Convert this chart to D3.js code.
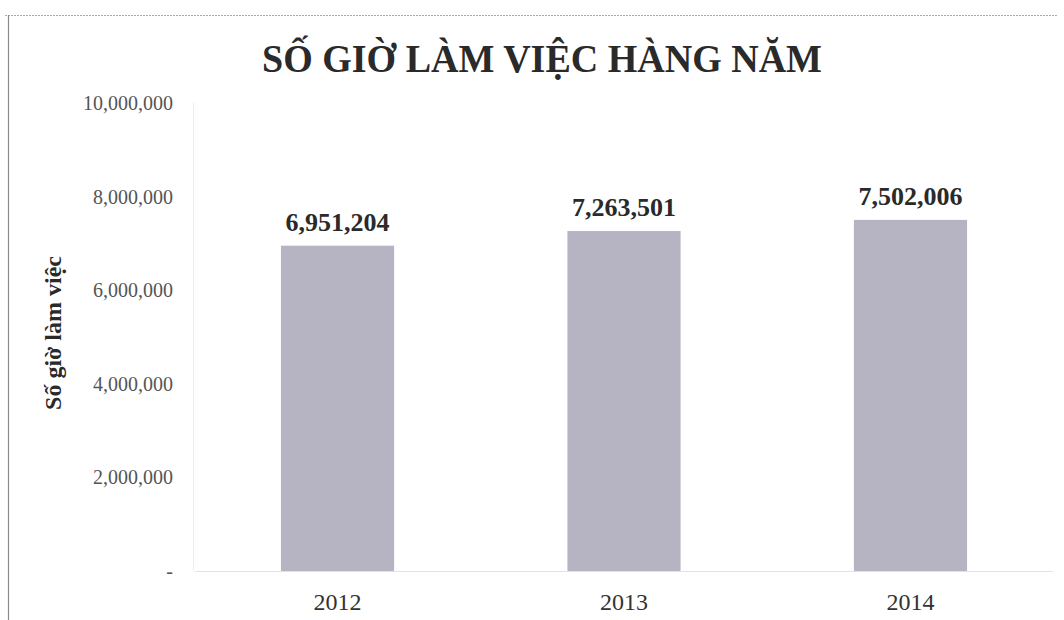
<!DOCTYPE html>
<html>
<head>
<meta charset="utf-8">
<script src="https://cdn.jsdelivr.net/npm/d3@7/dist/d3.min.js"></script>
<style>
  html, body { margin: 0; padding: 0; background: #fff; }
  svg { display: block; }
  text { font-family: "Liberation Serif", "Times New Roman", serif; }
</style>
</head>
<body>
<svg id="chart" width="1064" height="620"></svg>
<script>
// Annual working hours per year
const years = ["2012", "2013", "2014"];
const hours = [6951204, 7263501, 7502006];
const yTicks = [0, 2000000, 4000000, 6000000, 8000000, 10000000];

const chartTitle = "SỐ GIỜ LÀM VIỆC HÀNG NĂM";
const yTitle = "Số giờ làm việc";

const svg = d3.select("#chart");
const margin = { top: 103, right: 11, bottom: 49, left: 195 };
const W = 1064, H = 620;
const plotW = W - margin.left - margin.right;
const plotH = H - margin.top - margin.bottom;

const fmt = d3.format(",");

// outer frame: dotted top edge and solid left edge
svg.append("line")
  .attr("x1", 5).attr("x2", 1058).attr("y1", 15.5).attr("y2", 15.5)
  .attr("stroke", "#aaaaaa").attr("stroke-width", 1).attr("stroke-dasharray", "2,1");
svg.append("line")
  .attr("x1", 8.5).attr("x2", 8.5).attr("y1", 15).attr("y2", 620)
  .attr("stroke", "#8a8a8a").attr("stroke-width", 1.2);

const g = svg.append("g").attr("transform", `translate(${margin.left},${margin.top})`);

const x = d3.scaleBand().domain(years).range([0, plotW]).paddingInner(0.605).paddingOuter(0.3);
const y = d3.scaleLinear().domain([0, 10000000]).range([plotH, 0]);

// faint left plot edge
g.append("line")
  .attr("x1", -1.5).attr("x2", -1.5).attr("y1", 0).attr("y2", plotH)
  .attr("stroke", "#ececec").attr("stroke-width", 1);

// y axis
const yAxis = d3.axisLeft(y)
  .tickValues(yTicks)
  .tickSize(0)
  .tickPadding(22)
  .tickFormat(d => d === 0 ? "-" : fmt(d));
const ya = g.append("g").call(yAxis);
ya.select(".domain").remove();
ya.selectAll("text")
  .attr("fill", "#555")
  .style("font-size", "20px")
  .attr("dy", "0.32em");

// bars
g.selectAll("rect.bar")
  .data(years)
  .enter().append("rect")
  .attr("class", "bar")
  .attr("x", d => x(d))
  .attr("width", x.bandwidth())
  .attr("y", (d, i) => y(hours[i]))
  .attr("height", (d, i) => plotH - y(hours[i]))
  .attr("fill", "#b6b4c3");

// baseline
g.append("line")
  .attr("x1", 0).attr("x2", plotW).attr("y1", plotH + 0.5).attr("y2", plotH + 0.5)
  .attr("stroke", "#e2e2e2").attr("stroke-width", 1);

// x axis
const xAxis = d3.axisBottom(x).tickSize(0).tickPadding(22);
const xa = g.append("g").attr("transform", `translate(0,${plotH})`).call(xAxis);
xa.select(".domain").remove();
xa.selectAll("text")
  .attr("fill", "#333")
  .style("font-size", "24px");

// value labels
g.selectAll("text.val")
  .data(years)
  .enter().append("text")
  .attr("class", "val")
  .attr("x", d => x(d) + x.bandwidth() / 2)
  .attr("y", (d, i) => y(hours[i]) - 15)
  .attr("text-anchor", "middle")
  .attr("fill", "#2a2a2a")
  .style("font-size", "26px")
  .style("font-weight", "bold")
  .text((d, i) => fmt(hours[i]));

// chart title
svg.append("text")
  .attr("x", 542).attr("y", 72)
  .attr("text-anchor", "middle")
  .attr("fill", "#2a2a2a")
  .style("font-size", "40px")
  .style("font-weight", "bold")
  .attr("textLength", 560)
  .attr("lengthAdjust", "spacingAndGlyphs")
  .text(chartTitle);

// y axis title
svg.append("text")
  .attr("transform", "translate(61,333) rotate(-90)")
  .attr("text-anchor", "middle")
  .attr("fill", "#2a2a2a")
  .style("font-size", "24px")
  .style("font-weight", "bold")
  .text(yTitle);
</script>
</body>
</html>
